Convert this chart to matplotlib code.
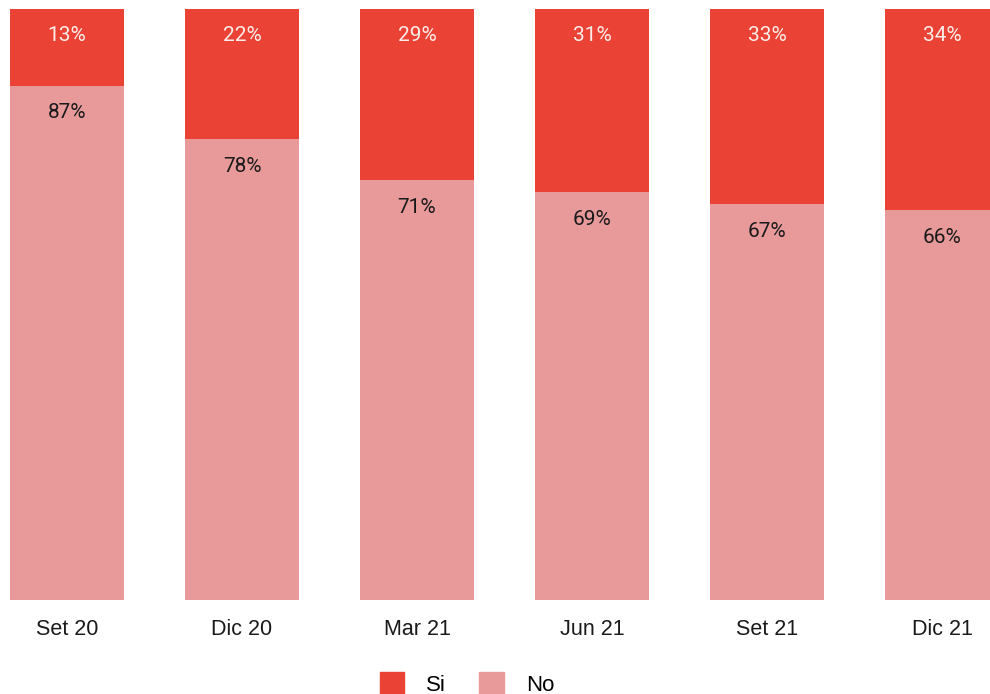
import matplotlib.pyplot as plt
from matplotlib.patches import Patch

# Survey shares per quarter
periods = ['Set 20', 'Dic 20', 'Mar 21', 'Jun 21', 'Set 21', 'Dic 21']
si_pct = [13, 22, 29, 31, 33, 34]
no_pct = [87, 78, 71, 69, 67, 66]

si_color = '#EA4335'
no_color = '#E89A9A'

fig = plt.figure(figsize=(9.9, 6.94), dpi=100)
ax = fig.add_axes([0, 94 / 694, 1, 591 / 694])

x = list(range(len(periods)))
width = 0.65

ax.bar(x, no_pct, width=width, color=no_color)
ax.bar(x, si_pct, width=width, bottom=no_pct, color=si_color)

# Percent labels just below the top of each segment
for i in x:
    ax.annotate(f'{si_pct[i]}%', (i, 100), xytext=(0, -19), textcoords='offset points',
                ha='center', va='center', fontsize=15, color='#FCEDEA', family='Roboto')
    ax.annotate(f'{no_pct[i]}%', (i, no_pct[i]), xytext=(0, -19.5), textcoords='offset points',
                ha='center', va='center', fontsize=15, color='#1a1a1a', family='Roboto')

ax.set_xlim(-67 / 175, 923 / 175)
ax.set_ylim(0, 100)
ax.set_xticks(x)
ax.set_xticklabels(periods, fontsize=15.5, family='Liberation Sans', color='#1a1a1a')
ax.tick_params(axis='x', length=0, pad=14)
ax.set_yticks([])
for s in ax.spines.values():
    s.set_visible(False)

handles = [Patch(color=si_color, label='Si'), Patch(color=no_color, label='No')]
fig.legend(handles=handles, loc='center', bbox_to_anchor=(467 / 990, 1 - 684 / 694), ncol=2,
           frameon=False, prop={'family': 'Liberation Sans', 'size': 16},
           handlelength=1.1, handleheight=1.1, columnspacing=1.5, handletextpad=1.0)

plt.savefig('out.png', dpi=100)
